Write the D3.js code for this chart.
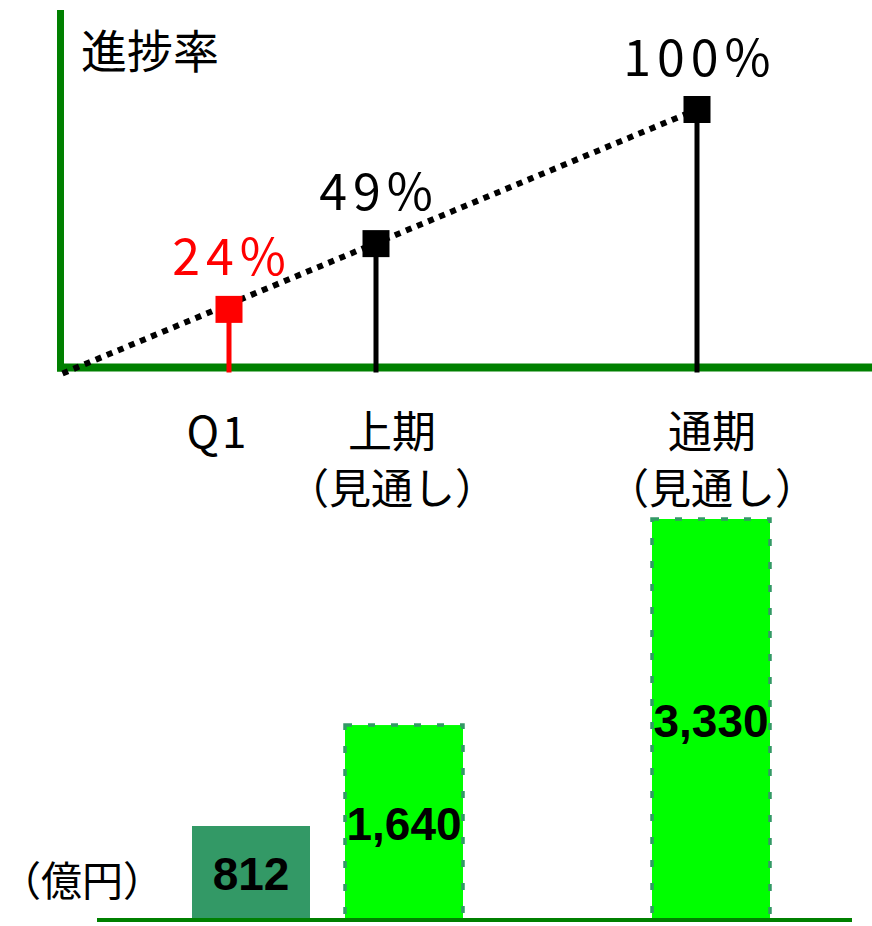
<!DOCTYPE html>
<html>
<head>
<meta charset="utf-8">
<script src="https://cdn.jsdelivr.net/npm/d3@7.9.0/dist/d3.min.js"></script>
<style>
  body { margin: 0; background: #fff; }
  svg { display: block; font-family: 'Noto Sans CJK JP', sans-serif; }
</style>
</head>
<body>
<svg id="chart" width="872" height="926"></svg>
<script>
// data
const periods = ['Q1', '上期', '通期'];
const periodNotes = ['', '（見通し）', '（見通し）'];
const progress = [24, 49, 100];        // 進捗率 (%)
const sales = [812, 1640, 3330];       // 億円
const salesLabels = ['812', '1,640', '3,330'];

const svg = d3.select('#chart');
const green = '#008000';

// scales
const xMark = d3.scaleOrdinal().domain(periods).range([229, 376, 697]);
const xLabel = d3.scaleOrdinal().domain(periods).range([218, 392, 712]);
const xBar = d3.scaleOrdinal().domain(periods).range([192, 345, 652]);
const barW = 118;
const yPct = d3.scaleLinear().domain([0, 100]).range([372.5, 109.5]);
const yBar = d3.scaleLinear().domain([0, 3330]).range([925, 519]);
const axisX = 60.5;
const baseTop = 367.5;
const baseBottom = 920;

// ---- top chart: progress ----
svg.append('line')
  .attr('x1', axisX).attr('x2', axisX)
  .attr('y1', 10).attr('y2', baseTop + 4)
  .attr('stroke', green).attr('stroke-width', 7);
svg.append('line')
  .attr('x1', axisX - 3.5).attr('x2', 872)
  .attr('y1', baseTop).attr('y2', baseTop)
  .attr('stroke', green).attr('stroke-width', 8);

svg.append('text')
  .attr('x', 81).attr('y', 68)
  .attr('font-size', 46)
  .text('進捗率');

// dotted trend line from origin to full-year
const lineGen = d3.line().x(d => d[0]).y(d => d[1]);
svg.append('path')
  .attr('d', lineGen([[axisX + 2, yPct(0) + 1], [xMark('通期'), yPct(100)]]))
  .attr('fill', 'none')
  .attr('stroke', '#000')
  .attr('stroke-width', 6)
  .attr('stroke-dasharray', '6,6');

const pts = periods.map((p, i) => ({ p, v: progress[i], c: i === 0 ? '#ff0000' : '#000' }));

svg.selectAll('.stem').data(pts).join('line')
  .attr('class', 'stem')
  .attr('x1', d => xMark(d.p)).attr('x2', d => xMark(d.p))
  .attr('y1', d => yPct(d.v)).attr('y2', yPct(0))
  .attr('stroke', d => d.c).attr('stroke-width', 5);

svg.selectAll('.marker').data(pts).join('rect')
  .attr('class', 'marker')
  .attr('x', d => xMark(d.p) - 13.5).attr('y', d => yPct(d.v) - 13.5)
  .attr('width', 27).attr('height', 27)
  .attr('fill', d => d.c);

svg.selectAll('.pct').data(pts).join('text')
  .attr('class', 'pct')
  .attr('x', d => xMark(d.p) + 3)
  .attr('y', d => yPct(d.v) - 34)
  .attr('text-anchor', 'middle')
  .attr('font-size', 50)
  .attr('letter-spacing', 6)
  .attr('fill', d => d.c)
  .text(d => d.v + '%');

// category labels
svg.selectAll('.cat').data(periods).join('text')
  .attr('class', 'cat')
  .attr('x', d => xLabel(d))
  .attr('y', 448)
  .attr('text-anchor', 'middle')
  .attr('font-size', 44)
  .attr('letter-spacing', d => d === 'Q1' ? 3 : 0)
  .text(d => d);
svg.selectAll('.note').data(periods).join('text')
  .attr('class', 'note')
  .attr('x', d => xLabel(d))
  .attr('y', 504)
  .attr('text-anchor', 'middle')
  .attr('font-size', 42)
  .text((d, i) => periodNotes[i]);

// ---- bottom chart: sales ----
const bars = periods.map((p, i) => ({ p, v: sales[i], label: salesLabels[i], first: i === 0 }));

svg.selectAll('.bar').data(bars).join('rect')
  .attr('class', 'bar')
  .attr('x', d => xBar(d.p))
  .attr('y', d => yBar(d.v))
  .attr('width', barW)
  .attr('height', d => baseBottom - yBar(d.v))
  .attr('fill', d => d.first ? '#339966' : '#00ff00')
  .attr('stroke', d => d.first ? 'none' : '#339966')
  .attr('stroke-width', 3.5)
  .attr('stroke-dasharray', '7,16');

svg.selectAll('.barlabel').data(bars).join('text')
  .attr('class', 'barlabel')
  .attr('x', d => xBar(d.p) + barW / 2)
  .attr('y', d => (yBar(d.v) + baseBottom) / 2 + 17)
  .attr('text-anchor', 'middle')
  .attr('font-family', "'Liberation Sans', Arial, sans-serif")
  .attr('font-weight', 'bold')
  .attr('font-size', 46)
  .text(d => d.label);

svg.append('line')
  .attr('x1', 97).attr('x2', 852)
  .attr('y1', baseBottom).attr('y2', baseBottom)
  .attr('stroke', green).attr('stroke-width', 4);

svg.append('text')
  .attr('x', 0).attr('y', 896)
  .attr('font-size', 41)
  .text('（億円）');
</script>
</body>
</html>
